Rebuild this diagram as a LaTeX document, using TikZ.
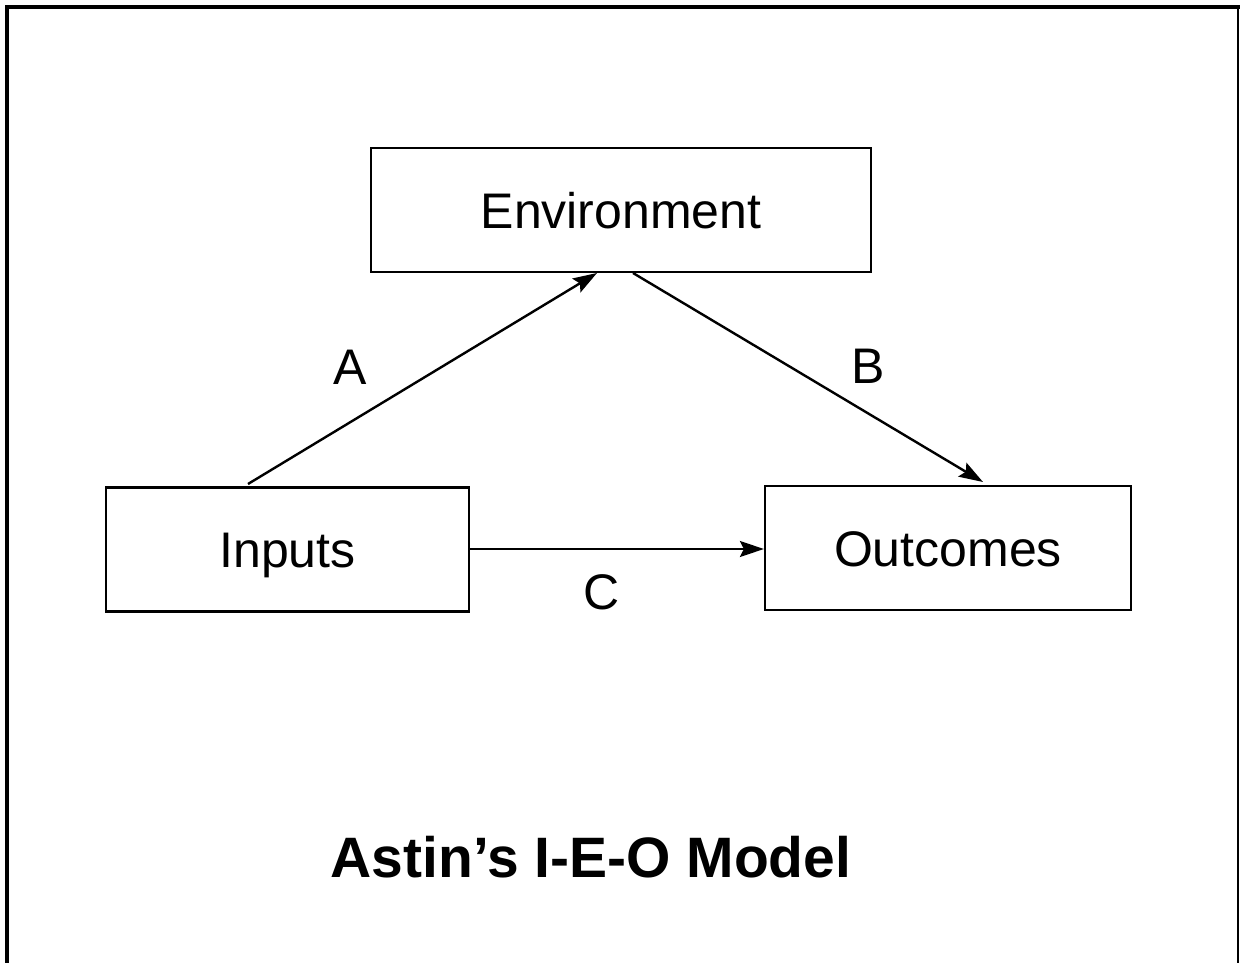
\documentclass[tikz,border=0pt]{standalone}
\usepackage{fontspec}
\setmainfont{Liberation Sans}
\usetikzlibrary{arrows.meta}
\begin{document}
\begin{tikzpicture}[x=1pt,y=-1pt,
  box/.style={draw,line width=2.2pt,minimum height=124pt,inner sep=0pt,text height=36pt,text depth=0pt,font=\fontsize{50}{60}\selectfont},
  lbl/.style={font=\fontsize{50}{60}\selectfont,inner sep=0pt},
  conn/.style={line width=2.4pt,-{Stealth[length=24pt,width=16pt,inset=4pt]}}]
\useasboundingbox (0,0) rectangle (1240,963);
\draw[line width=4.5pt] (7,963) -- (7,7) -- (1240,7);
\draw[line width=2pt] (1238,7) -- (1238,963);
\node[box,minimum width=500pt] (env) at (621,210) {Environment};
\node[box,minimum width=363pt] (inp) at (287.5,549.5) {Inputs};
\node[box,minimum width=366pt] (out) at (948,548) {Outcomes};
\coordinate (a0) at (248,484);
\coordinate (a1) at (597,273);
\coordinate (b0) at (633,273);
\coordinate (b1) at (983,482);
\draw[conn] (a0) -- (a1);
\draw[conn] (b0) -- (b1);
\draw[conn] (inp.east |- 0,549) -- (out.west |- 0,549);
\node[lbl] (la) at (350,367) {A};
\node[lbl] (lb) at (868,366) {B};
\node[lbl] (lc) at (602,592) {C};
\node[font=\fontsize{57}{67}\selectfont\bfseries,inner sep=0pt] (title) at (591,857) {Astin’s I-E-O Model};
\end{tikzpicture}
\end{document}
